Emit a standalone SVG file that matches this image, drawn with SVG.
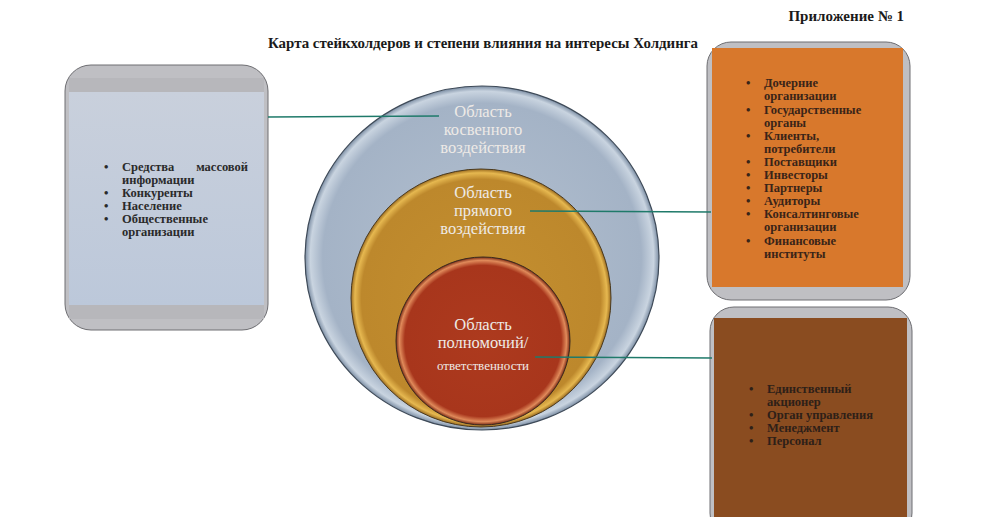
<svg xmlns="http://www.w3.org/2000/svg" width="1000" height="517" viewBox="0 0 1000 517">
<defs>
<radialGradient id="gOuter" cx="50%" cy="50%" r="50%">
<stop offset="0" stop-color="#b3c0d0"/>
<stop offset="0.9" stop-color="#a4b3c6"/>
<stop offset="0.97" stop-color="#c9d4e0"/>
<stop offset="1" stop-color="#7c8ea4"/>
</radialGradient>
<radialGradient id="gMid" cx="50%" cy="50%" r="50%">
<stop offset="0" stop-color="#c48f30"/>
<stop offset="0.92" stop-color="#bd882c"/>
<stop offset="0.97" stop-color="#e6b850"/>
<stop offset="1" stop-color="#9a6a1e"/>
</radialGradient>
<radialGradient id="gIn" cx="50%" cy="50%" r="50%">
<stop offset="0" stop-color="#ad3a1e"/>
<stop offset="0.9" stop-color="#a8361c"/>
<stop offset="0.96" stop-color="#e08a5a"/>
<stop offset="1" stop-color="#7a2a14"/>
</radialGradient>
<linearGradient id="gBlue" x1="0" y1="0" x2="0" y2="1">
<stop offset="0" stop-color="#c9d0dc"/>
<stop offset="1" stop-color="#bcc8da"/>
</linearGradient>
</defs>
<style>
.title{font-family:"Liberation Serif","Times New Roman",serif;font-weight:bold;font-size:15px;fill:#1a1a1a}
.list{font-family:"Liberation Serif","Times New Roman",serif;font-weight:bold;font-size:12.5px;fill:#2a2a2a}
.list2{font-family:"Liberation Serif","Times New Roman",serif;font-weight:bold;font-size:12.5px;fill:#3a2418}
.circ{font-family:"Liberation Serif","Times New Roman",serif;font-size:16.5px;fill:#eeeae6;text-anchor:middle}
.frame{fill:#bfbfc3;stroke:#6e6e72;stroke-width:1}
.conn{stroke:#1f7a6a;stroke-width:1.3;fill:none}
</style>
<rect width="1000" height="517" fill="#ffffff"/>
<text class="title" x="904" y="21" text-anchor="end">Приложение № 1</text>
<text class="title" x="483" y="48" text-anchor="middle" textLength="430" lengthAdjust="spacingAndGlyphs">Карта стейкхолдеров и степени влияния на интересы Холдинга</text>

<g id="node-left">
<rect class="frame" x="65" y="65" width="203" height="265" rx="26"/>
<rect x="69" y="78" width="195" height="241" fill="#b7b7bb"/>
<rect x="69" y="92" width="195" height="213" fill="url(#gBlue)"/>
<g class="list">
<text x="104" y="171">•</text><text x="122" y="171">Средства</text><text x="248" y="171" text-anchor="end">массовой</text>
<text x="122" y="184">информации</text>
<text x="104" y="197">•</text><text x="122" y="197">Конкуренты</text>
<text x="104" y="210">•</text><text x="122" y="210">Население</text>
<text x="104" y="223">•</text><text x="122" y="223">Общественные</text>
<text x="122" y="236">организации</text>
</g>
</g>

<g id="node-right-top">
<rect class="frame" x="707" y="42" width="203" height="258" rx="24"/>
<rect x="712" y="48" width="191" height="239" fill="#d8782c"/>
<g class="list2">
<text x="746" y="87">•</text><text x="764" y="87">Дочерние</text>
<text x="764" y="100">организации</text>
<text x="746" y="114">•</text><text x="764" y="114">Государственные</text>
<text x="764" y="127">органы</text>
<text x="746" y="140">•</text><text x="764" y="140">Клиенты,</text>
<text x="764" y="153">потребители</text>
<text x="746" y="166">•</text><text x="764" y="166">Поставщики</text>
<text x="746" y="179">•</text><text x="764" y="179">Инвесторы</text>
<text x="746" y="192">•</text><text x="764" y="192">Партнеры</text>
<text x="746" y="205">•</text><text x="764" y="205">Аудиторы</text>
<text x="746" y="218">•</text><text x="764" y="218">Консалтинговые</text>
<text x="764" y="231">организации</text>
<text x="746" y="245">•</text><text x="764" y="245">Финансовые</text>
<text x="764" y="258">институты</text>
</g>
</g>

<g id="node-right-bottom">
<rect class="frame" x="710" y="307" width="202" height="230" rx="24"/>
<rect x="714" y="318" width="193" height="199" fill="#8a4c20"/>
<g class="list2" style="fill:#2e2018">
<text x="749" y="393">•</text><text x="767" y="393">Единственный</text>
<text x="767" y="406">акционер</text>
<text x="749" y="419">•</text><text x="767" y="419">Орган управления</text>
<text x="749" y="432">•</text><text x="767" y="432">Менеджмент</text>
<text x="749" y="445">•</text><text x="767" y="445">Персонал</text>
</g>
</g>

<g id="node-outer">
<ellipse cx="482" cy="258" rx="177" ry="172" fill="url(#gOuter)" stroke="#3e4a58" stroke-width="1.2"/>
<text class="circ" x="483" y="117">Область</text>
<text class="circ" x="483" y="135">косвенного</text>
<text class="circ" x="483" y="153">воздействия</text>
</g>
<g id="node-middle">
<ellipse cx="481" cy="298" rx="130" ry="129" fill="url(#gMid)" stroke="#4a3a20" stroke-width="1"/>
<text class="circ" x="483" y="198">Область</text>
<text class="circ" x="483" y="216">прямого</text>
<text class="circ" x="483" y="234">воздействия</text>
</g>
<g id="node-inner">
<ellipse cx="483" cy="341" rx="87" ry="84" fill="url(#gIn)" stroke="#3a2a20" stroke-width="1"/>
<text class="circ" x="483" y="330">Область</text>
<text class="circ" x="483" y="348">полномочий/</text>
<text class="circ" x="483" y="370" style="font-size:13px">ответственности</text>
</g>

<g id="connectors">
<line class="conn" x1="268" y1="117" x2="439" y2="116"/>
<line class="conn" x1="530" y1="211" x2="711" y2="212"/>
<line class="conn" x1="535" y1="357" x2="712" y2="358"/>
</g>
</svg>
